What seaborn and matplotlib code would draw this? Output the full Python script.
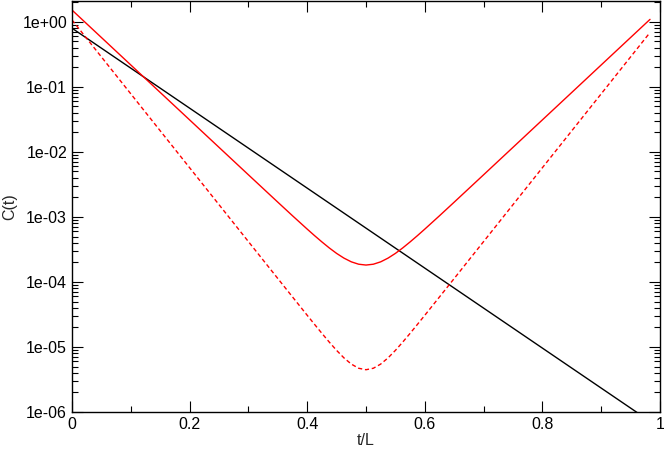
import numpy as np
import pandas as pd
import matplotlib
matplotlib.use("Agg")
import matplotlib.pyplot as plt
import matplotlib.ticker as mticker
import seaborn as sns

# values (log scale)
t_red = [0.0, 0.05, 0.1, 0.15, 0.2, 0.25, 0.3, 0.35, 0.375, 0.4, 0.4125, 0.425, 0.4375, 0.45,
         0.4625, 0.475, 0.4875, 0.5, 0.5125, 0.525, 0.5375, 0.55, 0.5625, 0.575, 0.5875, 0.6,
         0.625, 0.65, 0.7, 0.75, 0.8, 0.85, 0.9, 0.95, 0.983]
c_solid = [1.52, 0.575, 0.2174, 0.0822, 0.0311, 0.01176, 0.00445, 0.001688, 1.043e-3, 6.50e-4,
           5.16e-4, 4.13e-4, 3.34e-4, 2.75e-4, 2.327e-4, 2.04e-4, 1.875e-4, 1.82e-4, 1.875e-4,
           2.04e-4, 2.327e-4, 2.75e-4, 3.34e-4, 4.13e-4, 5.16e-4, 6.50e-4, 1.043e-3, 0.001688,
           0.00445, 0.01176, 0.0311, 0.0822, 0.2174, 0.575, 1.092]
c_dashed = [1.07, 0.2893, 0.07823, 0.02115, 0.00572, 0.001546, 4.18e-4, 1.131e-4, 5.89e-5,
            3.074e-5, 2.228e-5, 1.621e-5, 1.190e-5, 8.87e-6, 6.80e-6, 5.46e-6, 4.71e-6, 4.47e-6,
            4.71e-6, 5.46e-6, 6.80e-6, 8.87e-6, 1.190e-5, 1.621e-5, 2.228e-5, 3.074e-5, 5.89e-5,
            1.131e-4, 4.18e-4, 0.001546, 0.00572, 0.02115, 0.07823, 0.2893, 0.686]
t_black = [0.0, 0.983]
c_black = [0.80, 7.2e-07]

sns.set_style("ticks")
plt.rcParams['font.family'] = ['Liberation Sans', 'DejaVu Sans']

fig, ax = plt.subplots(figsize=(6.64, 4.5), dpi=100)
fig.subplots_adjust(left=0.1084, right=0.994, bottom=0.0844, top=0.998)

sns.lineplot(x=t_black, y=c_black, color="black", lw=1.0, ax=ax)
sns.lineplot(x=t_red, y=c_solid, color="red", lw=1.0, ax=ax)
sns.lineplot(x=t_red, y=c_dashed, color="red", lw=1.0, linestyle=(0, (3, 2)), ax=ax)

ax.set_yscale("log")
ax.set_xlim(0, 1)
ax.set_ylim(1e-6, 2.1)

ax.xaxis.set_major_locator(mticker.MultipleLocator(0.2))
ax.xaxis.set_minor_locator(mticker.MultipleLocator(0.1))
ax.xaxis.set_major_formatter(mticker.FuncFormatter(lambda v, p: f"{v:g}"))
ax.yaxis.set_major_locator(mticker.LogLocator(base=10, numticks=20))
ax.yaxis.set_minor_locator(mticker.LogLocator(base=10, subs=np.arange(2, 10), numticks=20))
ax.yaxis.set_major_formatter(mticker.FuncFormatter(lambda v, p: f"{v:.0e}"))
ax.yaxis.set_minor_formatter(mticker.NullFormatter())

ax.tick_params(which="both", direction="in", top=True, right=True, width=0.8,
               labelsize=11.5, colors="black")
ax.tick_params(which="major", length=8)
ax.tick_params(which="minor", length=4.5)
for s in ax.spines.values():
    s.set_linewidth(1.0)
    s.set_color("black")

ax.set_xlabel("t/L", fontsize=11.5, labelpad=1)
ax.set_ylabel("C(t)", fontsize=11.5, labelpad=4)

plt.savefig("out.png", dpi=100)
